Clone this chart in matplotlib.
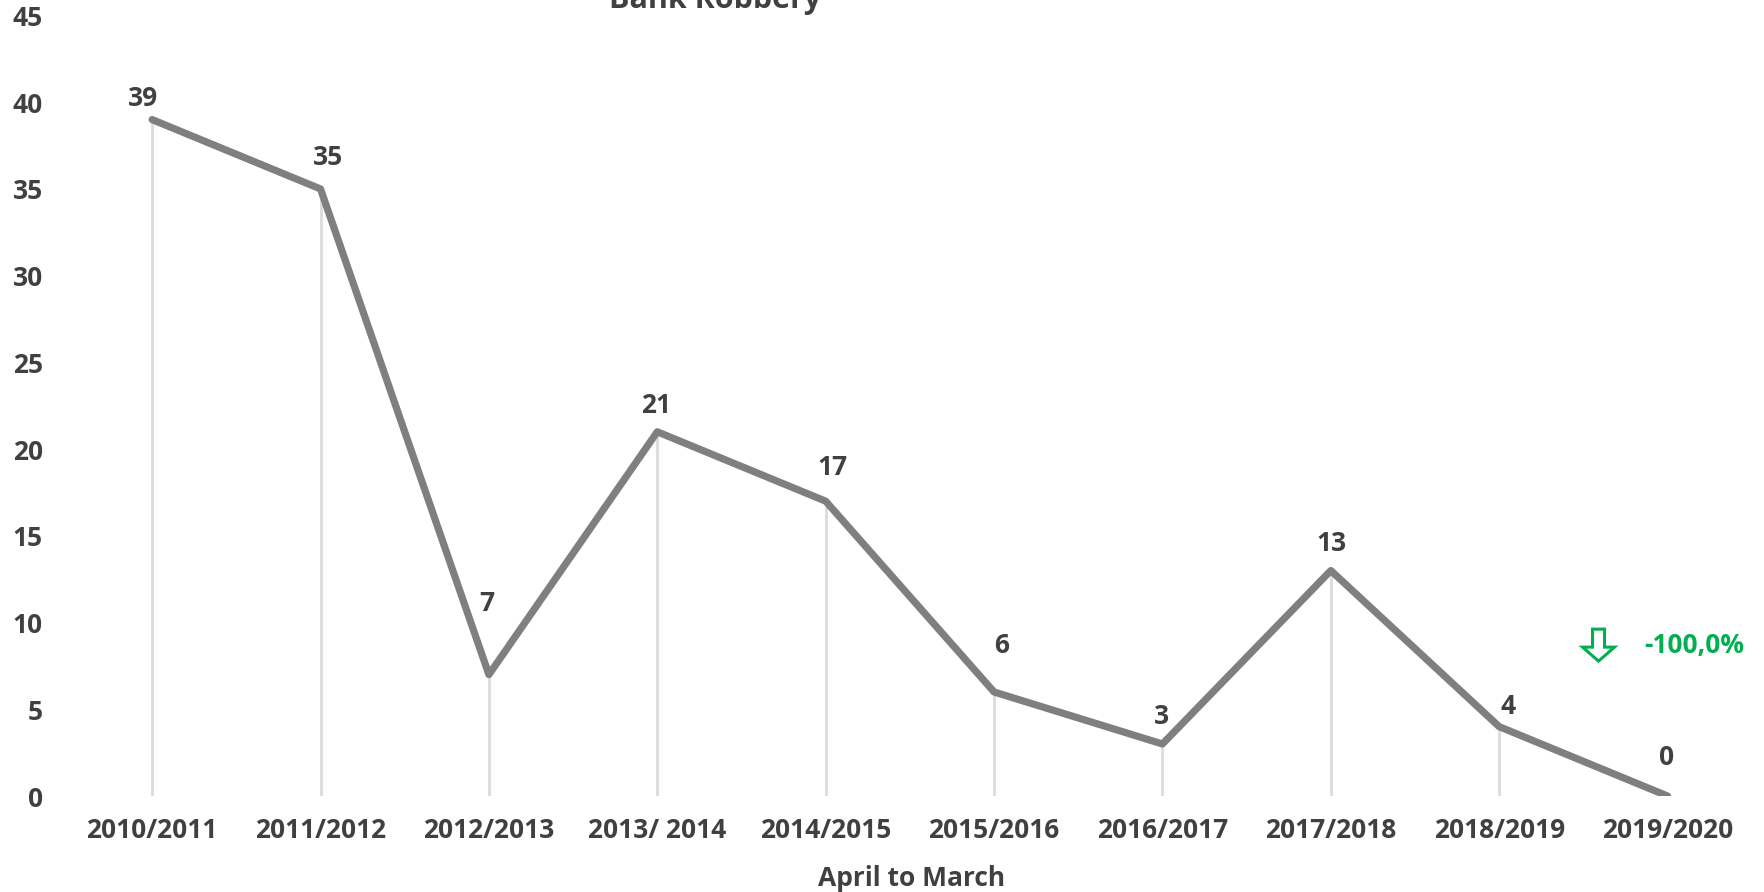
import matplotlib
matplotlib.use("Agg")
import matplotlib.pyplot as plt
import matplotlib.transforms as mtransforms
from matplotlib.patches import Polygon

# === Data ===
years = ["2010/2011", "2011/2012", "2012/2013", "2013/ 2014", "2014/2015",
         "2015/2016", "2016/2017", "2017/2018", "2018/2019", "2019/2020"]
robberies = [39, 35, 7, 21, 17, 6, 3, 13, 4, 0]
change_label = "-100,0%"

# label offsets in pixels (dx, dy) relative to each point
label_dx = [-9, 8, -2, -1, 7, 8, -1, 1, 9, -1]
label_dy = [21, 31, 71, 26, 34, 46, 27, 27, 20, 39]

# === Style ===
plt.rcParams["font.family"] = ["Open Sans", "DejaVu Sans"]
plt.rcParams["font.weight"] = "bold"
text_col = "#404040"
line_col = "#7f7f7f"
green = "#00b050"
fs = 19

fig = plt.figure(figsize=(17.65, 8.92), dpi=100)
ax = fig.add_axes([0.0385, 0.1076, 0.954, 0.875])

x = list(range(len(years)))

# drop lines
ax.vlines(x, 0, robberies, color="#dcdcdc", lw=2, zorder=1)
ax.plot(x, robberies, color=line_col, lw=5.2, solid_capstyle="round",
        solid_joinstyle="round", zorder=2)

for i, v in enumerate(robberies):
    ax.annotate(str(v), (i, v), xytext=(label_dx[i], label_dy[i]),
                textcoords="offset pixels", ha="center", va="center",
                fontsize=fs, fontweight="bold", color=text_col)

ax.set_xlim(-0.5, len(years) - 0.5)
ax.set_ylim(0, 45)
ax.set_yticks(range(0, 46, 5))
ax.set_xticks(x)
ax.set_xticklabels(years)
ax.tick_params(length=0, labelsize=fs, labelcolor=text_col)
ax.tick_params(axis="x", pad=15)
ax.tick_params(axis="y", pad=18)
for lbl in ax.get_xticklabels() + ax.get_yticklabels():
    lbl.set_fontweight("bold")
for s in ax.spines.values():
    s.set_visible(False)

# change indicator: hollow down arrow (shape in pixels around an anchor)
anchor = mtransforms.ScaledTranslation(8.59, 8.7, ax.transData)
arrow_shape = [(-6, 16), (6, 16), (6, -2), (16, -2), (0, -16), (-16, -2), (-6, -2)]
ax.add_patch(Polygon(arrow_shape, closed=True, facecolor="white", edgecolor=green,
                     lw=2.2, transform=mtransforms.Affine2D() + anchor,
                     clip_on=False, zorder=3))
ax.text(8.86, 8.7, change_label, fontsize=fs, fontweight="bold", color=green,
        ha="left", va="center")

fig.text(715 / 1765, 1 - 8 / 892, "Bank Robbery", ha="center", va="baseline",
         fontsize=fs + 3, fontweight="bold", color=text_col)
fig.text(912 / 1765, 1 - 878 / 892, "April to March", ha="center", va="center",
         fontsize=fs, fontweight="bold", color=text_col)

fig.savefig("out.png", dpi=100, facecolor="white")
